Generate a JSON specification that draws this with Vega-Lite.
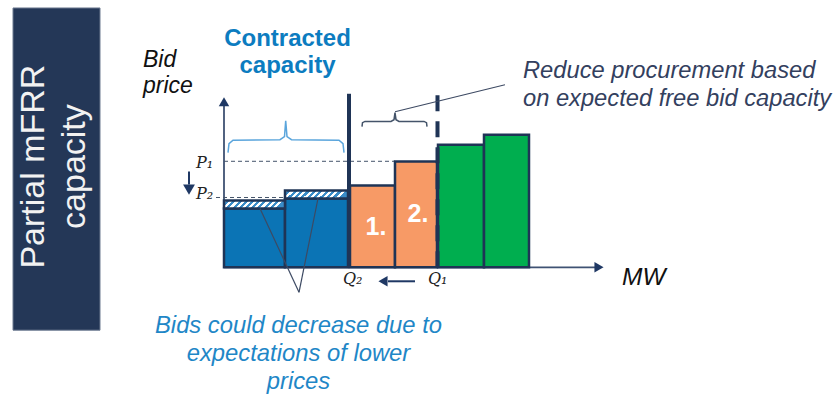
{
  "$schema": "https://vega.github.io/schema/vega-lite/v6.json",
  "width": 836,
  "height": 394,
  "autosize": {"type": "fit", "contains": "padding"},
  "padding": 0,
  "background": "white",
  "config": {"view": {"stroke": null}},
  "datasets": {
    "box": [{"q": -21.1, "q2": -12.4, "p": 26.0, "p2": -6.3}],
    "boxtext": [{"q": -19.0, "p": 10.1, "label": "Partial mFRR\ncapacity"}],
    "blue": [{"q": 0, "q2": 6.1, "p": 0, "p2": 5.9}, {"q": 6.1, "q2": 12.4, "p": 0, "p2": 6.9}],
    "hatch": [{"q": 0, "q2": 6.1, "p": 5.9, "p2": 6.7}, {"q": 6.1, "q2": 12.4, "p": 6.9, "p2": 7.7}],
    "orange": [{"q": 12.6, "q2": 17.1, "p": 0, "p2": 8.2}, {"q": 17.1, "q2": 21.3, "p": 0, "p2": 10.6}],
    "green": [{"q": 21.4, "q2": 26.0, "p": 0, "p2": 12.3}, {"q": 26.0, "q2": 30.5, "p": 0, "p2": 13.3}],
    "axes": [{"q": 0, "q2": 0, "p": 0, "p2": 16.8}, {"q": 0, "q2": 37.2, "p": 0, "p2": 0}],
    "q2line": [{"q": 12.5, "q2": 12.5, "p": 0, "p2": 17.4}],
    "q1line": [{"q": 21.35, "q2": 21.35, "p": 0, "p2": 17.5}],
    "plines": [{"q": 0, "q2": 17.1, "p": 10.63, "p2": 10.63}, {"q": -0.8, "q2": 6.1, "p": 7.0, "p2": 7.0}],
    "shafts": [{"q": -3.5, "q2": -3.5, "p": 9.6, "p2": 8.3}, {"q": 16.4, "q2": 19.1, "p": -1.4, "p2": -1.4}],
    "pointers": [{"q": 17.1, "q2": 28.1, "p": 15.6, "p2": 18.3}, {"q": 3.6, "q2": 7.5, "p": 5.9, "p2": -2.5}, {"q": 9.4, "q2": 7.5, "p": 6.9, "p2": -2.5}],
    "headUp": [{"q": 0, "p": 16.6}],
    "headRight": [{"q": 37.5, "p": 0}],
    "headDown": [{"q": -3.5, "p": 7.8}],
    "headLeft": [{"q": 15.9, "p": -1.4}],
    "braceBlue": [
      {"i": 0, "q": 0.4, "p": 11.5}, {"i": 1, "q": 0.5, "p": 12.4}, {"i": 2, "q": 0.9, "p": 12.75},
      {"i": 3, "q": 5.6, "p": 12.8}, {"i": 4, "q": 6.05, "p": 13.1}, {"i": 5, "q": 6.17, "p": 14.7},
      {"i": 6, "q": 6.3, "p": 13.1}, {"i": 7, "q": 6.75, "p": 12.8}, {"i": 8, "q": 11.5, "p": 12.75},
      {"i": 9, "q": 11.9, "p": 12.4}, {"i": 10, "q": 12.0, "p": 11.5}
    ],
    "braceGray": [
      {"i": 0, "q": 13.8, "p": 14.1}, {"i": 1, "q": 13.85, "p": 14.5}, {"i": 2, "q": 14.1, "p": 14.63},
      {"i": 3, "q": 16.7, "p": 14.63}, {"i": 4, "q": 17.0, "p": 14.8}, {"i": 5, "q": 17.1, "p": 15.5},
      {"i": 6, "q": 17.2, "p": 14.8}, {"i": 7, "q": 17.5, "p": 14.63}, {"i": 8, "q": 20.0, "p": 14.63},
      {"i": 9, "q": 20.25, "p": 14.5}, {"i": 10, "q": 20.3, "p": 14.1}
    ],
    "tContracted": [{"q": 6.35, "p": 24.1, "label": "Contracted\ncapacity"}],
    "tBid": [{"q": -8.1, "p": 21.9, "label": "Bid\nprice"}],
    "tReduce": [{"q": 29.9, "p": 20.9, "label": "Reduce procurement based\non expected free bid capacity"}],
    "tBids": [{"q": 7.45, "p": -4.7, "label": "Bids could decrease due to\nexpectations of lower\nprices"}],
    "tMW": [{"q": 39.8, "p": -1.8, "label": "MW"}],
    "tNum": [{"q": 15.2, "p": 3.2, "label": "1."}, {"q": 19.4, "p": 4.5, "label": "2."}],
    "tPQ": [{"q": -2.8, "p": 10.0, "label": "P₁"}, {"q": -2.8, "p": 6.8, "label": "P₂"}, {"q": 11.9, "p": -1.7, "label": "Q₂"}, {"q": 20.4, "p": -1.7, "label": "Q₁"}]
  },
  "encoding": {
    "x": {"field": "q", "type": "quantitative", "scale": {"domain": [-22.4, 61.2], "nice": false, "zero": false}, "axis": null},
    "y": {"field": "p", "type": "quantitative", "scale": {"domain": [-12.6, 26.8], "nice": false, "zero": false}, "axis": null}
  },
  "layer": [
    {"data": {"name": "box"}, "mark": {"type": "rect", "fill": "#243757", "stroke": "#6d7a90", "strokeWidth": 1},
     "encoding": {"x2": {"field": "q2"}, "y2": {"field": "p2"}}},
    {"data": {"name": "boxtext"}, "mark": {"type": "text", "angle": 270, "align": "center", "baseline": "middle", "lineBreak": "\n", "lineHeight": 41, "fontSize": 34, "font": "Liberation Sans", "color": "#f2f2f2"},
     "encoding": {"text": {"field": "label", "type": "nominal"}}},
    {"data": {"name": "axes"}, "mark": {"type": "rule", "color": "#3f5273", "strokeWidth": 1.8},
     "encoding": {"x2": {"field": "q2"}, "y2": {"field": "p2"}}},
    {"data": {"name": "plines"}, "mark": {"type": "rule", "color": "#44546a", "strokeWidth": 1, "strokeDash": [4, 3]},
     "encoding": {"x2": {"field": "q2"}, "y2": {"field": "p2"}}},
    {"data": {"name": "blue"}, "mark": {"type": "rect", "fill": "#0b74b5", "stroke": "#1f3456", "strokeWidth": 2.5},
     "encoding": {"x2": {"field": "q2"}, "y2": {"field": "p2"}}},
    {"data": {"name": "hatch"}, "mark": {"type": "rect", "stroke": "#1f3456", "strokeWidth": 2.5,
      "fill": {"gradient": "linear", "x1": 0, "y1": 0, "x2": 1, "y2": 0.13, "stops": [
        {"offset": 0, "color": "#ffffff"}, {"offset": 0.05, "color": "#ffffff"}, {"offset": 0.05, "color": "#3a8cc8"}, {"offset": 0.1, "color": "#3a8cc8"},
        {"offset": 0.1, "color": "#ffffff"}, {"offset": 0.15, "color": "#ffffff"}, {"offset": 0.15, "color": "#3a8cc8"}, {"offset": 0.2, "color": "#3a8cc8"},
        {"offset": 0.2, "color": "#ffffff"}, {"offset": 0.25, "color": "#ffffff"}, {"offset": 0.25, "color": "#3a8cc8"}, {"offset": 0.3, "color": "#3a8cc8"},
        {"offset": 0.3, "color": "#ffffff"}, {"offset": 0.35, "color": "#ffffff"}, {"offset": 0.35, "color": "#3a8cc8"}, {"offset": 0.4, "color": "#3a8cc8"},
        {"offset": 0.4, "color": "#ffffff"}, {"offset": 0.45, "color": "#ffffff"}, {"offset": 0.45, "color": "#3a8cc8"}, {"offset": 0.5, "color": "#3a8cc8"},
        {"offset": 0.5, "color": "#ffffff"}, {"offset": 0.55, "color": "#ffffff"}, {"offset": 0.55, "color": "#3a8cc8"}, {"offset": 0.6, "color": "#3a8cc8"},
        {"offset": 0.6, "color": "#ffffff"}, {"offset": 0.65, "color": "#ffffff"}, {"offset": 0.65, "color": "#3a8cc8"}, {"offset": 0.7, "color": "#3a8cc8"},
        {"offset": 0.7, "color": "#ffffff"}, {"offset": 0.75, "color": "#ffffff"}, {"offset": 0.75, "color": "#3a8cc8"}, {"offset": 0.8, "color": "#3a8cc8"},
        {"offset": 0.8, "color": "#ffffff"}, {"offset": 0.85, "color": "#ffffff"}, {"offset": 0.85, "color": "#3a8cc8"}, {"offset": 0.9, "color": "#3a8cc8"},
        {"offset": 0.9, "color": "#ffffff"}, {"offset": 0.95, "color": "#ffffff"}, {"offset": 0.95, "color": "#3a8cc8"}, {"offset": 1, "color": "#3a8cc8"}
      ]}},
     "encoding": {"x2": {"field": "q2"}, "y2": {"field": "p2"}}},
    {"data": {"name": "orange"}, "mark": {"type": "rect", "fill": "#f79a66", "stroke": "#1f3456", "strokeWidth": 2.5},
     "encoding": {"x2": {"field": "q2"}, "y2": {"field": "p2"}}},
    {"data": {"name": "green"}, "mark": {"type": "rect", "fill": "#00ae4f", "stroke": "#1f3456", "strokeWidth": 2.5},
     "encoding": {"x2": {"field": "q2"}, "y2": {"field": "p2"}}},
    {"data": {"name": "q2line"}, "mark": {"type": "rule", "color": "#1f3456", "strokeWidth": 4},
     "encoding": {"x2": {"field": "q2"}, "y2": {"field": "p2"}}},
    {"data": {"name": "q1line"}, "mark": {"type": "rule", "color": "#1f3456", "strokeWidth": 4, "strokeDash": [16, 10]},
     "encoding": {"x2": {"field": "q2"}, "y2": {"field": "p2"}}},
    {"data": {"name": "shafts"}, "mark": {"type": "rule", "color": "#1f3864", "strokeWidth": 2},
     "encoding": {"x2": {"field": "q2"}, "y2": {"field": "p2"}}},
    {"data": {"name": "pointers"}, "mark": {"type": "rule", "color": "#3d4a63", "strokeWidth": 1.2},
     "encoding": {"x2": {"field": "q2"}, "y2": {"field": "p2"}}},
    {"data": {"name": "headUp"}, "mark": {"type": "point", "shape": "triangle-up", "filled": true, "opacity": 1, "color": "#1f3864", "size": 110}, "encoding": {}},
    {"data": {"name": "headRight"}, "mark": {"type": "point", "shape": "triangle-right", "filled": true, "opacity": 1, "color": "#1f3864", "size": 110}, "encoding": {}},
    {"data": {"name": "headDown"}, "mark": {"type": "point", "shape": "triangle-down", "filled": true, "opacity": 1, "color": "#1f3864", "size": 140}, "encoding": {}},
    {"data": {"name": "headLeft"}, "mark": {"type": "point", "shape": "triangle-left", "filled": true, "opacity": 1, "color": "#1f3864", "size": 110}, "encoding": {}},
    {"data": {"name": "braceBlue"}, "mark": {"type": "line", "color": "#5aa5dc", "strokeWidth": 1.5},
     "encoding": {"order": {"field": "i", "type": "quantitative"}}},
    {"data": {"name": "braceGray"}, "mark": {"type": "line", "color": "#44546a", "strokeWidth": 1.5},
     "encoding": {"order": {"field": "i", "type": "quantitative"}}},
    {"data": {"name": "tContracted"}, "mark": {"type": "text", "align": "center", "baseline": "top", "lineBreak": "\n", "lineHeight": 27, "fontSize": 24, "fontWeight": "bold", "font": "Liberation Sans", "color": "#0c7cc0"},
     "encoding": {"text": {"field": "label", "type": "nominal"}}},
    {"data": {"name": "tBid"}, "mark": {"type": "text", "align": "left", "baseline": "top", "lineBreak": "\n", "lineHeight": 26, "fontSize": 23, "fontStyle": "italic", "font": "Liberation Sans", "color": "#111111"},
     "encoding": {"text": {"field": "label", "type": "nominal"}}},
    {"data": {"name": "tReduce"}, "mark": {"type": "text", "align": "left", "baseline": "top", "lineBreak": "\n", "lineHeight": 28, "fontSize": 23.7, "fontStyle": "italic", "font": "Liberation Sans", "color": "#33405e"},
     "encoding": {"text": {"field": "label", "type": "nominal"}}},
    {"data": {"name": "tBids"}, "mark": {"type": "text", "align": "center", "baseline": "top", "lineBreak": "\n", "lineHeight": 28, "fontSize": 23.8, "fontStyle": "italic", "font": "Liberation Sans", "color": "#1f87c7"},
     "encoding": {"text": {"field": "label", "type": "nominal"}}},
    {"data": {"name": "tMW"}, "mark": {"type": "text", "align": "left", "baseline": "alphabetic", "fontSize": 24.5, "fontStyle": "italic", "font": "Liberation Sans", "color": "#111111"},
     "encoding": {"text": {"field": "label", "type": "nominal"}}},
    {"data": {"name": "tNum"}, "mark": {"type": "text", "align": "center", "baseline": "alphabetic", "fontSize": 25, "fontWeight": "bold", "font": "Liberation Sans", "color": "#ffffff"},
     "encoding": {"text": {"field": "label", "type": "nominal"}}},
    {"data": {"name": "tPQ"}, "mark": {"type": "text", "align": "left", "baseline": "alphabetic", "fontSize": 16, "fontStyle": "italic", "font": "DejaVu Serif", "color": "#222222"},
     "encoding": {"text": {"field": "label", "type": "nominal"}}}
  ]
}
